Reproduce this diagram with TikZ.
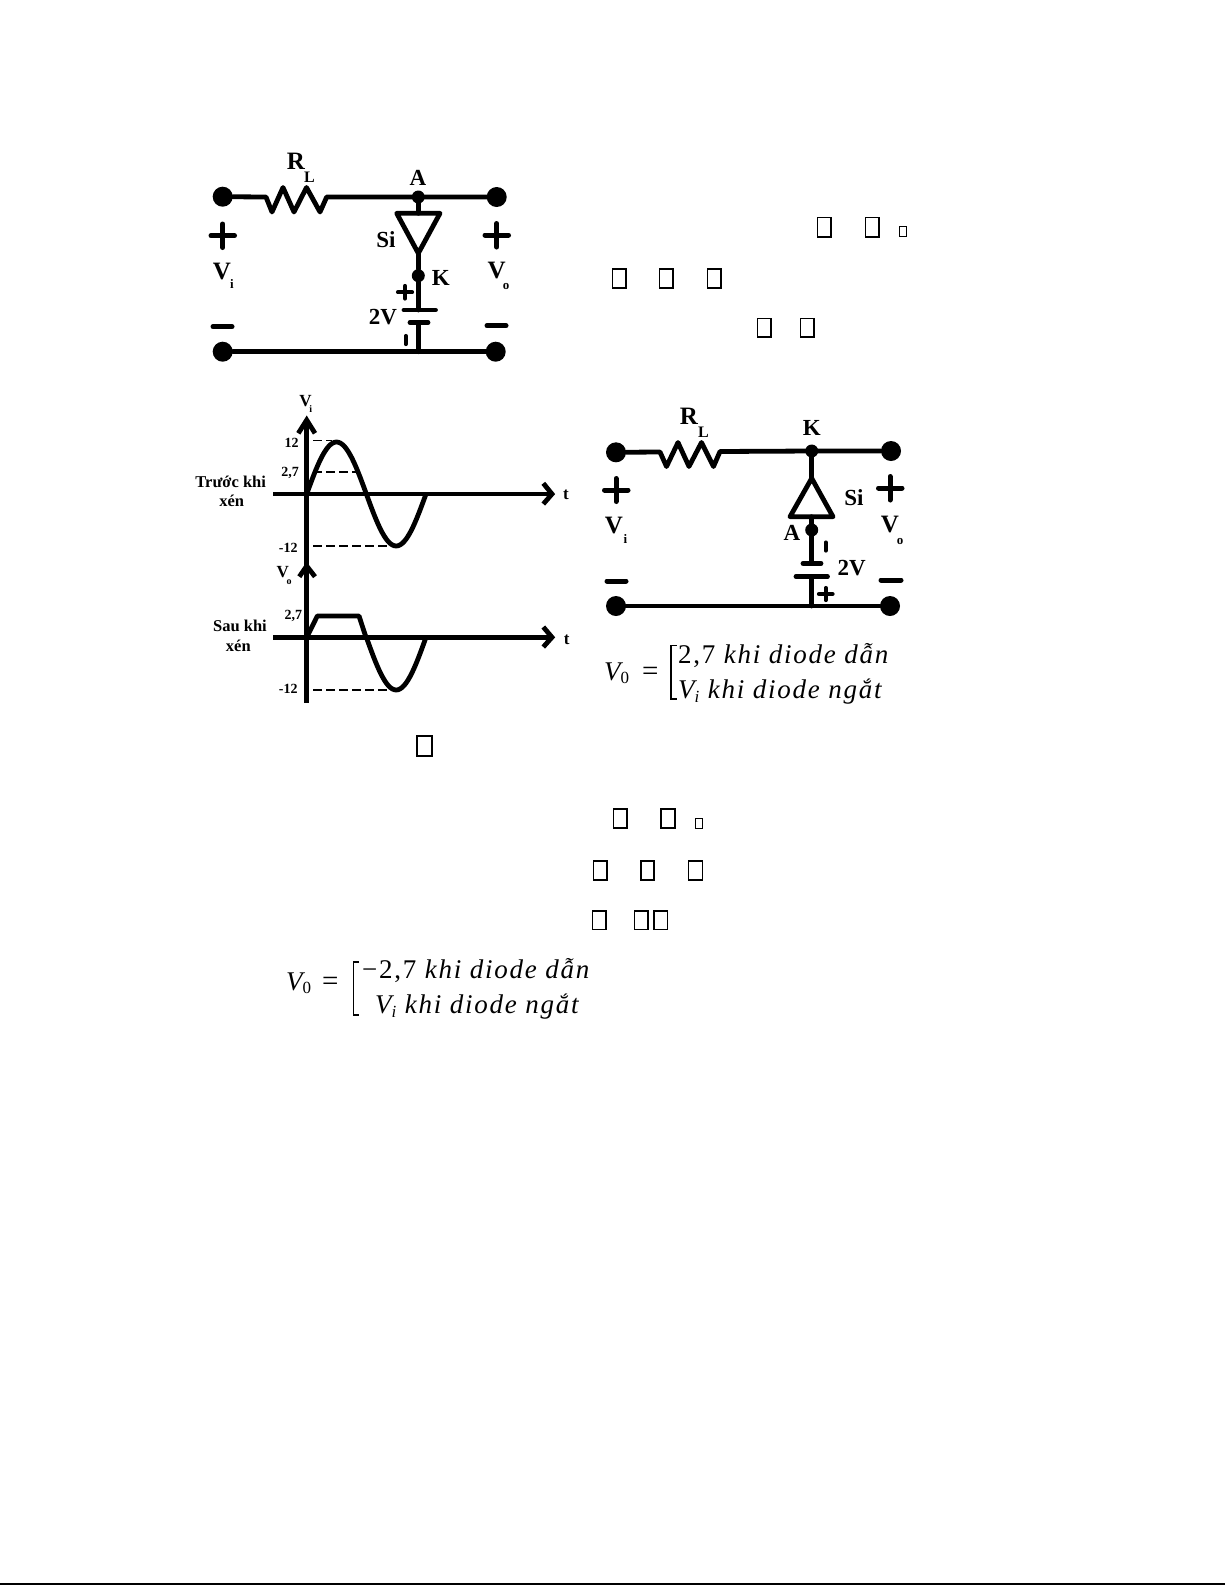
\documentclass[tikz,border=0pt]{standalone}
\usepackage{fontspec}
\setmainfont{Liberation Serif}
\newfontfamily\eqbase[LetterSpace=6.5]{Liberation Serif}
\newcommand{\eqit}{\eqbase\itshape}
\newcommand{\eqrm}{\eqbase\upshape}
\newcommand{\fz}[1]{\fontsize{#1}{#1}\selectfont}
\newcommand{\subt}[2]{\raisebox{#1}{\fz{17}#2}}
\tikzset{
  wire/.style={line width=4.8pt,line cap=round,line join=round},
  term/.style={circle,fill=black,inner sep=0pt,minimum size=20pt},
  jdot/.style={circle,fill=black,inner sep=0pt,minimum size=13pt},
  sign/.style={line width=5pt,line cap=round},
  lab/.style={inner sep=0pt,font=\fz{23}\bfseries},
  labs/.style={inner sep=0pt,font=\fz{13}\bfseries},
  glab/.style={inner sep=0pt,font=\fz{14}\bfseries},
  captxt/.style={inner sep=0pt,font=\fz{16.5}\bfseries},
  hdash/.style={line width=1.6pt,dash pattern=on 9pt off 4pt},
  sinecurve/.style={line width=4.8pt,line join=round},
  axisline/.style={line width=4.8pt},
  chev/.style={line width=4.8pt,line join=miter},
  missing/.style={draw=black,line width=1.6pt,fill=white},
  missingsmall/.style={draw=black,line width=1.1pt,fill=white},
  eqn/.style={inner sep=0pt,anchor=base west,font=\fz{27}},
  brk/.style={line width=1.6pt}
}
\begin{document}
\begin{tikzpicture}[x=1pt,y=-1pt]
\useasboundingbox (0,0) rectangle (1225,1585);
\fill[white] (0,0) rectangle (1225,1585);
\fill[black] (0,1583) rectangle (1225,1585);

%% ---- circuit 1
\node[term] (tl1) at (222.7,196.7) {};
\node[term] (tr1) at (496.7,197) {};
\node[term] (bl1) at (222.7,351.7) {};
\node[term] (br1) at (495.7,351.7) {};
\node[jdot] (a1) at (418.3,197) {};
\node[jdot] (k1) at (418.3,275.7) {};
\coordinate (rs1) at (266,197);
\coordinate (re1) at (326.7,197);
\coordinate (dt1) at (418.3,213.3);
\coordinate (da1) at (418.3,253.3);
\coordinate (bt1) at (418.3,310);
\coordinate (bb1) at (418.3,322.7);
\coordinate (bg1) at (418.3,351.7);
\draw[wire] (tl1) -- (rs1) -- (272,212) -- (283,187.5) -- (294,212) -- (306.5,187.5) -- (320,212) -- (re1) -- (a1) -- (tr1);
\draw[wire] (a1) -- (dt1);
\draw[wire] (396.7,213.3) -- (440,213.3) -- (da1) -- cycle;
\draw[wire] (da1) -- (k1) -- (bt1);
\draw[wire] (bb1) -- (bg1);
\draw[wire] (bl1) -- (br1);
\draw[wire] (404,310) -- (435.5,310);
\draw[wire] (410,322.7) -- (428,322.7);
\draw[sign] (211,235.7) -- (234.5,235.7);
\draw[sign] (222.7,224) -- (222.7,247.5);
\draw[sign] (485,235) -- (508.5,235);
\draw[sign] (496.7,223.5) -- (496.7,247);
\draw[sign] (213,326.7) -- (232,326.7);
\draw[sign] (487,325.7) -- (506,325.7);
\draw[sign,line width=4.2pt] (398,292.3) -- (412,292.3);
\draw[sign,line width=4.2pt] (405,286) -- (405,298.5);
\draw[sign,line width=4.2pt] (405.7,336) -- (405.7,344);
\node[lab,font=\fz{25}\bfseries] (r1) at (296,161.7) {R};
\node[labs,font=\fz{16}\bfseries] (l1) at (309.5,177.5) {L};
\node[lab] (na1) at (418,177.7) {A};
\node[lab] (si1) at (386,240) {Si};
\node[lab] (nk1) at (440.7,278) {K};
\node[lab] (v2v1) at (383,317) {2V};
\node[lab,font=\fz{25}\bfseries] (vi1) at (222,271.7) {V};
\node[labs] (vis1) at (232,284) {i};
\node[lab,font=\fz{25}\bfseries] (vo1) at (496.7,270.7) {V};
\node[labs] (vos1) at (506,286) {o};

%% ---- circuit 2
\node[term] (tl2) at (616,452.3) {};
\node[term] (tr2) at (891,451) {};
\node[term] (bl2) at (616,606) {};
\node[term] (br2) at (890,606) {};
\node[jdot] (k2) at (811.7,451) {};
\node[jdot] (a2) at (811.7,530) {};
\coordinate (rs2) at (660,452);
\coordinate (re2) at (720,451.5);
\coordinate (dt2) at (811.7,478.3);
\coordinate (db2) at (811.7,516.7);
\coordinate (bt2) at (811.7,563.3);
\coordinate (bb2) at (811.7,576.7);
\coordinate (bg2) at (811.7,606);
\draw[wire] (tl2) -- (rs2) -- (666.5,466.5) -- (678,442.5) -- (689,466.5) -- (701.5,442.5) -- (713.5,466.5) -- (re2) -- (k2) -- (tr2);
\draw[wire] (k2) -- (dt2);
\draw[wire] (dt2) -- (833,516.7) -- (790,516.7) -- cycle;
\draw[wire] (db2) -- (a2) -- (bt2);
\draw[wire] (bb2) -- (bg2);
\draw[wire] (bl2) -- (br2);
\draw[wire] (803,563.3) -- (821,563.3);
\draw[wire] (796,576.7) -- (827.5,576.7);
\draw[sign] (604.5,490) -- (628,490);
\draw[sign] (616,478.5) -- (616,501.5);
\draw[sign] (878.5,488) -- (902,488);
\draw[sign] (890,476.5) -- (890,500);
\draw[sign] (607,581) -- (626,581);
\draw[sign] (881,580) -- (901,580);
\draw[sign,line width=4.2pt] (825.7,542.5) -- (825.7,550.5);
\draw[sign,line width=4.2pt] (819,594) -- (832.5,594);
\draw[sign,line width=4.2pt] (825.7,588) -- (825.7,600);
\node[lab,font=\fz{25}\bfseries] (r2) at (689,416.7) {R};
\node[labs,font=\fz{16}\bfseries] (l2) at (703.5,432) {L};
\node[lab] (nk2) at (811.7,427.7) {K};
\node[lab] (si2) at (854,497.7) {Si};
\node[lab] (na2) at (792,533) {A};
\node[lab] (v2v2) at (851.7,568) {2V};
\node[lab,font=\fz{25}\bfseries] (vi2) at (614,525) {V};
\node[labs] (vis2) at (625.5,539) {i};
\node[lab,font=\fz{25}\bfseries] (vo2) at (890,524) {V};
\node[labs] (vos2) at (900,541.5) {o};

%% ---- waveforms
\coordinate (ytop) at (306.7,420);
\coordinate (ybot) at (306.7,703);
\coordinate (x1s) at (273.3,494);
\coordinate (x1e) at (552,494);
\coordinate (x2s) at (273.3,637.3);
\coordinate (x2e) at (552,637.3);
\draw[axisline] (ytop) -- (ybot);
\draw[axisline] (x1s) -- (x1e);
\draw[axisline] (x2s) -- (x2e);
\draw[chev] (298.3,433.3) -- (ytop) -- (315,433.3);
\draw[chev] (299.3,576.7) -- (306.7,566) -- (315,576.7);
\draw[chev] (543.3,483.3) -- (x1e) -- (543.3,504);
\draw[chev] (543.3,627) -- (x2e) -- (543.3,647);
\draw[sinecurve] plot[smooth,domain=0:360,samples=61] ({306.7+\x/360*119.3},{494-52*sin(\x)});
\draw[sinecurve] (306.7,637.3) -- (317.3,616) -- (359,616) -- (366,637.3)
  plot[smooth,domain=180:360,samples=31] ({306.7+\x/360*119.3},{637.3-52.7*sin(\x)});
\draw[hdash] (313.3,440.3) -- (332,440.3);
\draw[hdash] (313.3,471.7) -- (356.7,471.7);
\draw[hdash] (313.3,546) -- (388,546);
\draw[hdash] (313.3,690) -- (390,690);
\node[glab,font=\fz{17}\bfseries] (gvi) at (305.5,400.7) {V};
\node[glab,font=\fz{10}\bfseries] (gvis) at (310.7,409) {i};
\node[glab] (g12) at (291.7,442.7) {12};
\node[glab] (g27) at (290,472.7) {2,7};
\node[glab] (gm12) at (288.3,547.7) {-12};
\node[glab,font=\fz{17}\bfseries] (gvo) at (282.7,571.7) {V};
\node[glab,font=\fz{10}\bfseries] (gvos) at (289,582.5) {o};
\node[glab] (h27) at (293.3,616) {2,7};
\node[glab] (hm12) at (288.3,689.3) {-12};
\node[glab,font=\fz{17}\bfseries] (t1) at (566,495) {t};
\node[glab,font=\fz{17}\bfseries] (t2) at (566.7,639.3) {t};
\node[captxt] (c1) at (230.7,481.7) {Trước khi};
\node[captxt] (c2) at (231.7,500.7) {xén};
\node[captxt] (c3) at (240,625.7) {Sau khi};
\node[captxt] (c4) at (238.3,645.7) {xén};

%% ---- equation 1
\node[eqn] (e1v) at (604,680) {\eqit V\subt{-3pt}{\eqrm 0}};
\node[eqn,font=\fz{29}] (e1q) at (642,680) {=};
\draw[brk] (676.5,645.5) -- (671,645.5) -- (671,699) -- (676.5,699);
\node[eqn] (e1a) at (678,663) {\eqrm 2,7 \eqit khi diode dẫn};
\node[eqn] (e1b) at (678,698) {\eqit V\subt{-4pt}{i} khi diode ngắt};

%% ---- equation 2
\node[eqn] (e2v) at (286,990) {\eqit V\subt{-3pt}{\eqrm 0}};
\node[eqn,font=\fz{29}] (e2q) at (322,990) {=};
\draw[brk] (359,962) -- (353.5,962) -- (353.5,1015) -- (359,1015);
\node[eqn] (e2a) at (362,978) {\eqrm −2,7 \eqit khi diode dẫn};
\node[eqn] (e2b) at (375,1013) {\eqit V\subt{-4pt}{i} khi diode ngắt};

%% ---- missing-glyph boxes
\foreach \xa/\ya/\xb/\yb in {
 817.3/217.3/830.7/236.7, 865.3/217.3/879/236.7,
 612.3/269/625.7/288, 659.3/269/672.7/288, 707.3/269/721/288,
 757.3/318.3/771/336.7, 800.3/318.3/813.7/336.7,
 416.7/736/431.7/755.7,
 613.3/809/626.7/828, 661/809/675/828,
 593.3/861/606.7/880, 640.7/861/654/880, 688.3/861/702.3/880,
 592.3/910.7/605.7/929.3, 634.3/910.7/647.7/929.3, 654/910.7/667.3/929.3}
  \draw[missing] (\xa,\ya) rectangle (\xb,\yb);
\foreach \xa/\ya/\xb/\yb in {899.3/226.7/906.7/236.7, 695.7/818.7/702.7/828.7}
  \draw[missingsmall] (\xa,\ya) rectangle (\xb,\yb);
\end{tikzpicture}
\end{document}
